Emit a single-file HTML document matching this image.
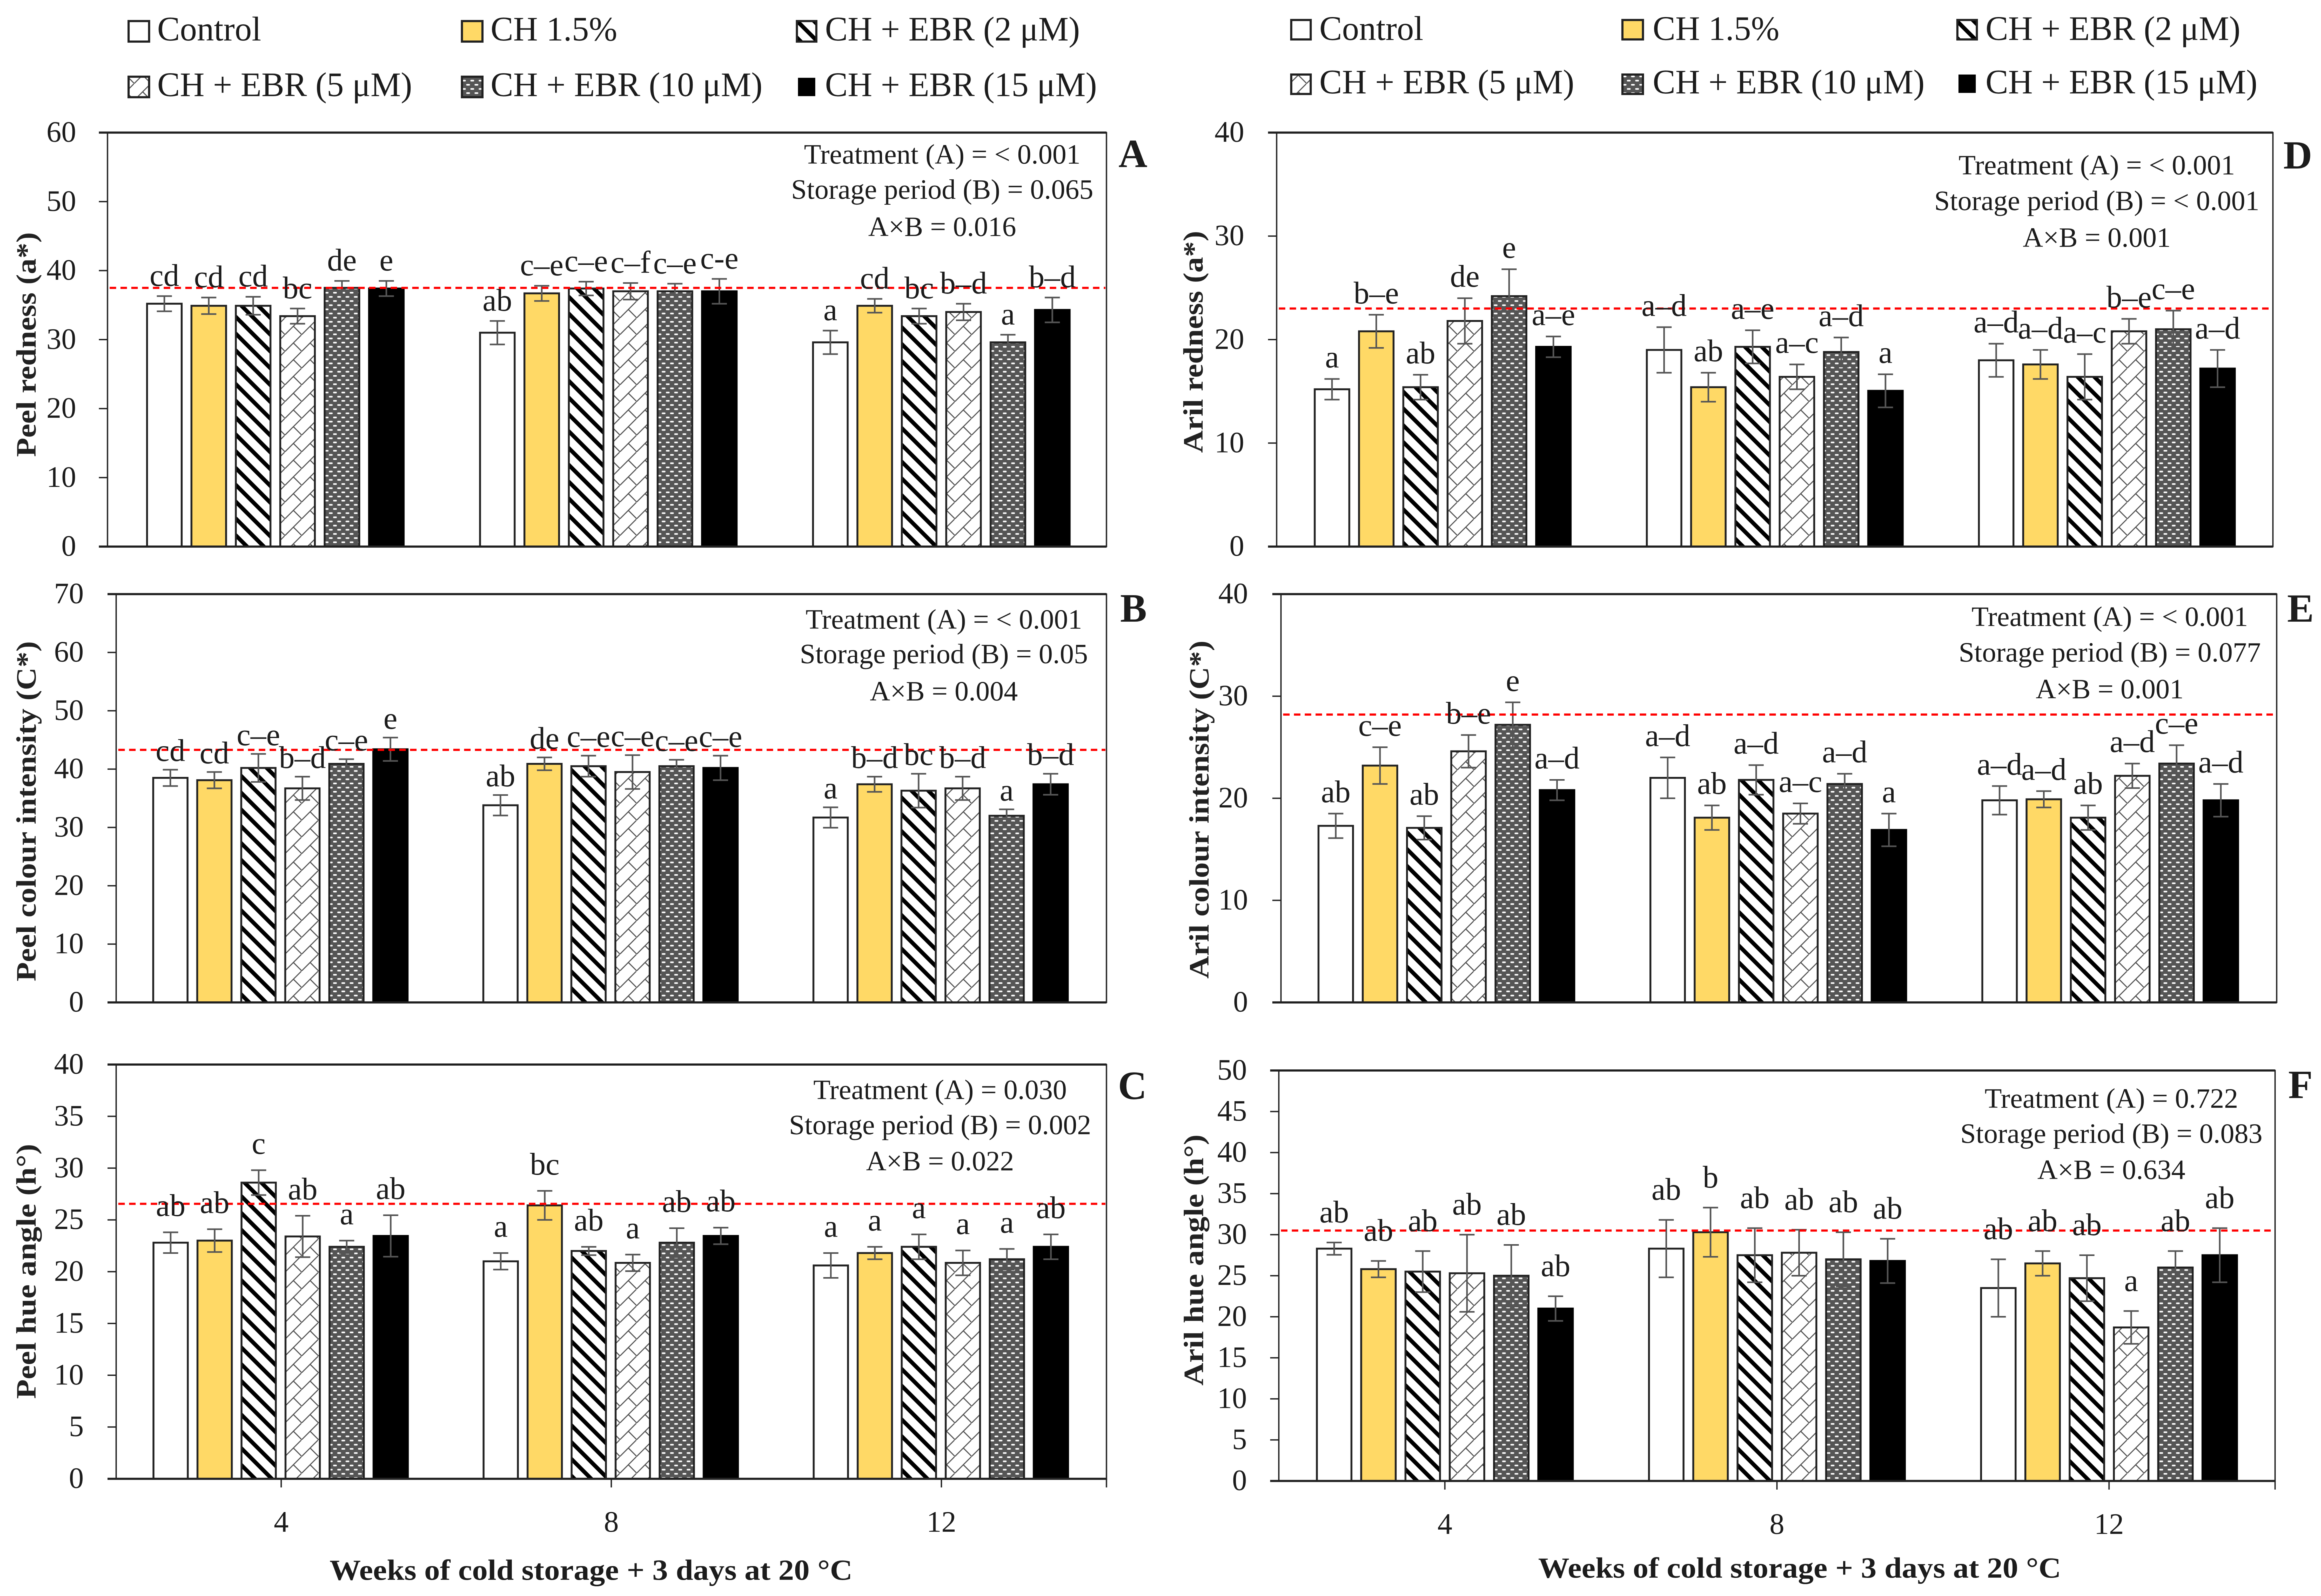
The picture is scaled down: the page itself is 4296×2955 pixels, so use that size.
<!DOCTYPE html>
<html lang="en">
<head>
<meta charset="utf-8">
<title>Peel and aril colour charts</title>
<style>
html,body{margin:0;padding:0;background:#fff;}
svg{display:block;filter:blur(0.9px);}
text{font-family:"Liberation Serif",serif;fill:#1c1c1c;}
.leg{font-size:63px;}
.ann{font-size:52px;text-anchor:middle;}
.ytitle{font-size:52px;font-weight:bold;text-anchor:middle;fill:#222;}
.xtitle{font-size:54px;font-weight:bold;text-anchor:middle;}
.letter{font-size:74px;font-weight:bold;text-anchor:middle;}
.tick{font-size:55px;text-anchor:end;}
.cat{font-size:55px;text-anchor:middle;}
.sig{font-size:58px;text-anchor:middle;}
</style>
</head>
<body>
<svg id="fig" xmlns="http://www.w3.org/2000/svg" width="4296" height="2955" viewBox="0 0 4296 2955">
<defs>
<pattern id="p-stripes" patternUnits="userSpaceOnUse" width="22" height="22" patternTransform="rotate(-45)">
<rect width="22" height="22" fill="#fff"/><rect width="7.5" height="22" fill="#000"/>
</pattern>
<pattern id="p-trellis" patternUnits="userSpaceOnUse" width="31" height="31">
<rect width="31" height="31" fill="#fff"/>
<path d="M-2 33L33 -2M16 15L33 32" stroke="#555" stroke-width="2" fill="none"/>
</pattern>
<pattern id="p-dots" patternUnits="userSpaceOnUse" width="15.4" height="15.4">
<rect width="15.4" height="15.4" fill="#555"/>
<rect x="0.5" y="1.5" width="7" height="3" rx="1.5" fill="#fff"/>
<rect x="8.2" y="9.2" width="7" height="3" rx="1.5" fill="#fff"/>
</pattern>
</defs>

<rect width="4296" height="2955" fill="#fff"/>

<g>
<rect x="238" y="39" width="38" height="38" fill="#fff" stroke="#222" stroke-width="4"/>
<text class="leg" x="291" y="75">Control</text>
<rect x="855" y="39" width="38" height="38" fill="#FFD966" stroke="#222" stroke-width="4"/>
<text class="leg" x="908" y="75">CH 1.5%</text>
<rect x="1475" y="39" width="36" height="38" fill="url(#p-stripes)" stroke="#222" stroke-width="4"/>
<text class="leg" x="1527" y="75">CH + EBR (2 μM)</text>
<rect x="238" y="142" width="38" height="38" fill="url(#p-trellis)" stroke="#222" stroke-width="4"/>
<text class="leg" x="291" y="178">CH + EBR (5 μM)</text>
<rect x="855" y="142" width="38" height="38" fill="url(#p-dots)" stroke="#222" stroke-width="4"/>
<text class="leg" x="908" y="178">CH + EBR (10 μM)</text>
<rect x="1477" y="144" width="32" height="34" fill="#000"/>
<text class="leg" x="1527" y="178">CH + EBR (15 μM)</text>
</g>

<g>
<rect x="2390" y="37" width="36" height="36" fill="#fff" stroke="#222" stroke-width="4"/>
<text class="leg" x="2442" y="74">Control</text>
<rect x="3003" y="37" width="38" height="36" fill="#FFD966" stroke="#222" stroke-width="4"/>
<text class="leg" x="3059" y="74">CH 1.5%</text>
<rect x="3623" y="37" width="36" height="36" fill="url(#p-stripes)" stroke="#222" stroke-width="4"/>
<text class="leg" x="3675" y="74">CH + EBR (2 μM)</text>
<rect x="2390" y="138" width="36" height="36" fill="url(#p-trellis)" stroke="#222" stroke-width="4"/>
<text class="leg" x="2442" y="173">CH + EBR (5 μM)</text>
<rect x="3003" y="138" width="38" height="36" fill="url(#p-dots)" stroke="#222" stroke-width="4"/>
<text class="leg" x="3059" y="173">CH + EBR (10 μM)</text>
<rect x="3625" y="138" width="32" height="34" fill="#000"/>
<text class="leg" x="3675" y="173">CH + EBR (15 μM)</text>
</g>

<g id="panels"></g>

<g>
<text class="ytitle" transform="translate(66 638) rotate(-90)" textLength="416" lengthAdjust="spacingAndGlyphs">Peel redness (a*)</text>
<text class="ann" x="1744" y="303">Treatment (A) = &lt; 0.001</text>
<text class="ann" x="1744" y="368">Storage period (B) = 0.065</text>
<text class="ann" x="1744" y="437">A×B = 0.016</text>
<text class="letter" x="2097" y="309">A</text>
</g>
<g>
<text class="ytitle" transform="translate(66 1502) rotate(-90)" textLength="630" lengthAdjust="spacingAndGlyphs">Peel colour intensity (C*)</text>
<text class="ann" x="1747" y="1164">Treatment (A) = &lt; 0.001</text>
<text class="ann" x="1747" y="1228">Storage period (B) = 0.05</text>
<text class="ann" x="1747" y="1297">A×B = 0.004</text>
<text class="letter" x="2098" y="1151">B</text>
</g>
<g>
<text class="ytitle" transform="translate(66 2354) rotate(-90)" textLength="472" lengthAdjust="spacingAndGlyphs">Peel hue angle (h°)</text>
<text class="ann" x="1740" y="2035">Treatment (A) = 0.030</text>
<text class="ann" x="1740" y="2100">Storage period (B) = 0.002</text>
<text class="ann" x="1740" y="2167">A×B = 0.022</text>
<text class="letter" x="2096" y="2035">C</text>
<text class="xtitle" x="1094" y="2925" textLength="968" lengthAdjust="spacingAndGlyphs">Weeks of cold storage + 3 days at 20 °C</text>
</g>
<g>
<text class="ytitle" transform="translate(2226 633) rotate(-90)" textLength="411" lengthAdjust="spacingAndGlyphs">Aril redness (a*)</text>
<text class="ann" x="3881" y="323">Treatment (A) = &lt; 0.001</text>
<text class="ann" x="3881" y="389">Storage period (B) = &lt; 0.001</text>
<text class="ann" x="3881" y="457">A×B = 0.001</text>
<text class="letter" x="4253" y="312">D</text>
</g>
<g>
<text class="ytitle" transform="translate(2237 1499) rotate(-90)" textLength="626" lengthAdjust="spacingAndGlyphs">Aril colour intensity (C*)</text>
<text class="ann" x="3905" y="1159">Treatment (A) = &lt; 0.001</text>
<text class="ann" x="3905" y="1225">Storage period (B) = 0.077</text>
<text class="ann" x="3905" y="1293">A×B = 0.001</text>
<text class="letter" x="4258" y="1151">E</text>
</g>
<g>
<text class="ytitle" transform="translate(2227 2333) rotate(-90)" textLength="465" lengthAdjust="spacingAndGlyphs">Aril hue angle (h°)</text>
<text class="ann" x="3908" y="2051">Treatment (A) = 0.722</text>
<text class="ann" x="3908" y="2116">Storage period (B) = 0.083</text>
<text class="ann" x="3908" y="2183">A×B = 0.634</text>
<text class="letter" x="4258" y="2033">F</text>
<text class="xtitle" x="3331" y="2921" textLength="968" lengthAdjust="spacingAndGlyphs">Weeks of cold storage + 3 days at 20 °C</text>
</g>
</svg>

<script>
/* Shared categories */
const weeks = [4, 8, 12];
const treatments = ['control', 'ch', 'ebr2', 'ebr5', 'ebr10', 'ebr15'];
const treatmentFills = ['#fff', '#FFD966', 'url(#p-stripes)', 'url(#p-trellis)', 'url(#p-dots)', '#000'];

/* Panel A: peel redness */
const aTicks = [0, 10, 20, 30, 40, 50, 60];
const aValues = [35.2, 34.9, 34.9, 33.4, 37.5, 37.4, 31.0, 36.7, 37.4, 37.0, 37.0, 37.0, 29.6, 34.9, 33.4, 34.0, 29.6, 34.3];
const aErrors = [1.1, 1.2, 1.3, 1.1, 1.0, 1.1, 1.7, 1.1, 1.0, 1.2, 1.1, 1.8, 1.7, 1.0, 1.1, 1.2, 1.1, 1.8];
const aLetters = ['cd', 'cd', 'cd', 'bc', 'de', 'e', 'ab', 'c–e', 'c–e', 'c–f', 'c–e', 'c-e', 'a', 'cd', 'bc', 'b–d', 'a', 'b–d'];
const aReference = 37.5;

/* Panel B: peel colour intensity */
const bTicks = [0, 10, 20, 30, 40, 50, 60, 70];
const bValues = [38.5, 38.1, 40.2, 36.7, 40.9, 43.4, 33.8, 40.9, 40.5, 39.5, 40.5, 40.2, 31.7, 37.4, 36.3, 36.7, 32.0, 37.4];
const bErrors = [1.4, 1.4, 2.4, 2.0, 0.8, 2.0, 1.75, 1.1, 1.8, 2.9, 1.1, 2.1, 1.75, 1.3, 2.9, 2.0, 1.1, 1.8];
const bLetters = ['cd', 'cd', 'c–e', 'b–d', 'c–e', 'e', 'ab', 'de', 'c–e', 'c–e', 'c–e', 'c–e', 'a', 'b–d', 'bc', 'b–d', 'a', 'b–d'];
const bReference = 43.3;

/* Panel C: peel hue angle */
const cTicks = [0, 5, 10, 15, 20, 25, 30, 35, 40];
const cValues = [22.8, 23.0, 28.6, 23.4, 22.4, 23.45, 21.0, 26.4, 22.0, 20.85, 22.8, 23.45, 20.6, 21.8, 22.4, 20.85, 21.2, 22.4];
const cErrors = [1.0, 1.1, 1.2, 2.0, 0.6, 2.0, 0.8, 1.4, 0.4, 0.8, 1.4, 0.8, 1.2, 0.6, 1.2, 1.2, 1.0, 1.2];
const cLetters = ['ab', 'ab', 'c', 'ab', 'a', 'ab', 'a', 'bc', 'ab', 'a', 'ab', 'ab', 'a', 'a', 'a', 'a', 'a', 'ab'];
const cReference = 26.55;

/* Panel D: aril redness */
const dTicks = [0, 10, 20, 30, 40];
const dValues = [15.2, 20.8, 15.4, 21.8, 24.2, 19.3, 19.0, 15.4, 19.3, 16.4, 18.8, 15.05, 18.0, 17.6, 16.4, 20.8, 21.0, 17.2];
const dErrors = [1.0, 1.6, 1.2, 2.2, 2.6, 1.0, 2.2, 1.4, 1.6, 1.2, 1.4, 1.6, 1.6, 1.4, 2.2, 1.2, 1.8, 1.8];
const dLetters = ['a', 'b–e', 'ab', 'de', 'e', 'a–e', 'a–d', 'ab', 'a–e', 'a–c', 'a–d', 'a', 'a–d', 'a–d', 'a–c', 'b–e', 'c–e', 'a–d'];
const dReference = 23.0;

/* Panel E: aril colour intensity */
const eTicks = [0, 10, 20, 30, 40];
const eValues = [17.3, 23.2, 17.1, 24.6, 27.2, 20.8, 22.0, 18.1, 21.8, 18.5, 21.4, 16.9, 19.8, 19.9, 18.1, 22.2, 23.4, 19.8];
const eErrors = [1.2, 1.8, 1.15, 1.6, 2.2, 1.0, 2.0, 1.2, 1.45, 1.0, 1.0, 1.6, 1.4, 0.8, 1.2, 1.2, 1.8, 1.6];
const eLetters = ['ab', 'c–e', 'ab', 'b–e', 'e', 'a–d', 'a–d', 'ab', 'a–d', 'a–c', 'a–d', 'a', 'a–d', 'a–d', 'ab', 'a–d', 'c–e', 'a–d'];
const eReference = 28.2;

/* Panel F: aril hue angle */
const fTicks = [0, 5, 10, 15, 20, 25, 30, 35, 40, 45, 50];
const fValues = [28.3, 25.8, 25.5, 25.3, 25.0, 21.0, 28.3, 30.3, 27.5, 27.8, 27.0, 26.8, 23.5, 26.5, 24.7, 18.7, 26.0, 27.5];
const fErrors = [0.75, 1.0, 2.5, 4.7, 3.75, 1.5, 3.5, 3.0, 3.3, 2.8, 3.3, 2.7, 3.5, 1.5, 2.8, 2.0, 2.0, 3.3];
const fLetters = ['ab', 'ab', 'ab', 'ab', 'ab', 'ab', 'ab', 'b', 'ab', 'ab', 'ab', 'ab', 'ab', 'ab', 'ab', 'a', 'ab', 'ab'];
const fReference = 30.5;

const NS = 'http://www.w3.org/2000/svg';
const root = document.getElementById('panels');

function make(tag, parent) {
  const el = document.createElementNS(NS, tag);
  parent.appendChild(el);
  return el;
}

function line(parent, x1, y1, x2, y2, color, width) {
  const el = make('line', parent);
  el.setAttribute('x1', x1);
  el.setAttribute('y1', y1);
  el.setAttribute('x2', x2);
  el.setAttribute('y2', y2);
  el.setAttribute('stroke', color);
  el.setAttribute('stroke-width', width);
  return el;
}

function drawPanel(id, box, ticks, values, errors, letters, reference) {
  const yMax = ticks[ticks.length - 1];
  const yScale = v => box.bottom - (v / yMax) * (box.bottom - box.top);
  const catWidth = (box.right - box.left) / weeks.length;
  const pitch = catWidth / 7.5;
  const barWidth = pitch * 0.78;
  const xScale = (g, t) => box.left + (g + 0.5) * catWidth + (t - 2.5) * pitch + (box.shift || 0);

  const g = make('g', root);
  
  

  /* bars */
  values.forEach((v, k) => {
    const t = k % treatments.length;
    const c = Math.floor(k / treatments.length);
    const bar = make('rect', g);
    
    
    bar.setAttribute('x', xScale(c, t) - barWidth / 2);
    bar.setAttribute('y', yScale(v));
    bar.setAttribute('width', barWidth);
    bar.setAttribute('height', box.bottom - yScale(v));
    bar.setAttribute('fill', treatmentFills[t]);
    bar.setAttribute('stroke', t === 5 ? '#000' : '#222');
    bar.setAttribute('stroke-width', 3.5);
  });

  /* error bars */
  values.forEach((v, k) => {
    const t = k % treatments.length;
    const c = Math.floor(k / treatments.length);
    const x = xScale(c, t);
    const hi = yScale(v + errors[k]);
    const lo = yScale(v - errors[k]);
    const err = make('g', g);
    
    
    line(err, x, hi, x, lo, '#555', 3);
    line(err, x - 14, hi, x + 14, hi, '#555', 3);
    line(err, x - 14, lo, x + 14, lo, '#555', 3);
  });

  /* frame */
  const frame = make('rect', g);
  
  
  frame.setAttribute('x', box.left);
  frame.setAttribute('y', box.top);
  frame.setAttribute('width', box.right - box.left);
  frame.setAttribute('height', box.bottom - box.top);
  frame.setAttribute('fill', 'none');
  frame.setAttribute('stroke', '#222');
  frame.setAttribute('stroke-width', 2.5);

  const topAxis = line(g, box.left - 16, box.top, box.right, box.top, '#222', 4);
  
  
  const xAxis = line(g, box.left - 16, box.bottom, box.right, box.bottom, '#222', 4);
  
  

  /* y ticks and labels */
  ticks.forEach(tv => {
    const y = yScale(tv);
    const mark = line(g, box.left - 16, y, box.left, y, '#222', 2.5);
    
    
    const label = make('text', g);
    
    
    label.setAttribute('class', 'tick');
    label.setAttribute('x', box.labelRight);
    label.setAttribute('y', y + 17);
    label.textContent = tv;
  });

  /* x ticks and category labels on the bottom panels */
  if (box.showX) {
    weeks.forEach((w, c) => {
      const x = box.left + (c + 0.5) * catWidth;
      const mark = line(g, x, box.bottom, x, box.bottom + 16, '#222', 2.5);
      
      
      const label = make('text', g);
      
      
      label.setAttribute('class', 'cat');
      label.setAttribute('x', x);
      label.setAttribute('y', box.catBaseline);
      label.textContent = w;
    });
    const endMark = line(g, box.right, box.bottom, box.right, box.bottom + 16, '#222', 2.5);
    
    
  }

  /* red reference line */
  const ref = line(g, box.left + 4, yScale(reference), box.right - 2, yScale(reference), '#f00', 4);
  
  
  ref.setAttribute('stroke-dasharray', '12 8');

  /* significance letters */
  letters.forEach((s, k) => {
    const t = k % treatments.length;
    const c = Math.floor(k / treatments.length);
    const label = make('text', g);
    
    
    label.setAttribute('class', 'sig');
    label.setAttribute('x', xScale(c, t));
    label.setAttribute('y', yScale(values[k] + errors[k]) - box.labelGap + 14);
    label.textContent = s;
  });
}

drawPanel('a', {left: 199, right: 2048, top: 245.5, bottom: 1012, labelRight: 141, labelGap: 33, shift: 2.5}, aTicks, aValues, aErrors, aLetters, aReference);
drawPanel('b', {left: 215, right: 2048, top: 1100, bottom: 1856, labelRight: 155, labelGap: 30, shift: -1.5}, bTicks, bValues, bErrors, bLetters, bReference);
drawPanel('c', {left: 215, right: 2048, top: 1971, bottom: 2738, labelRight: 155, labelGap: 44, shift: -1, showX: true, catBaseline: 2836}, cTicks, cValues, cErrors, cLetters, cReference);
drawPanel('d', {left: 2363, right: 4207, top: 245.5, bottom: 1012, labelRight: 2303, labelGap: 35}, dTicks, dValues, dErrors, dLetters, dReference);
drawPanel('e', {left: 2371, right: 4214, top: 1100, bottom: 1856, labelRight: 2310, labelGap: 35, shift: -1}, eTicks, eValues, eErrors, eLetters, eReference);
drawPanel('f', {left: 2367, right: 4211, top: 1982, bottom: 2742, labelRight: 2308, labelGap: 51, showX: true, catBaseline: 2840}, fTicks, fValues, fErrors, fLetters, fReference);
</script>
</body>
</html>
